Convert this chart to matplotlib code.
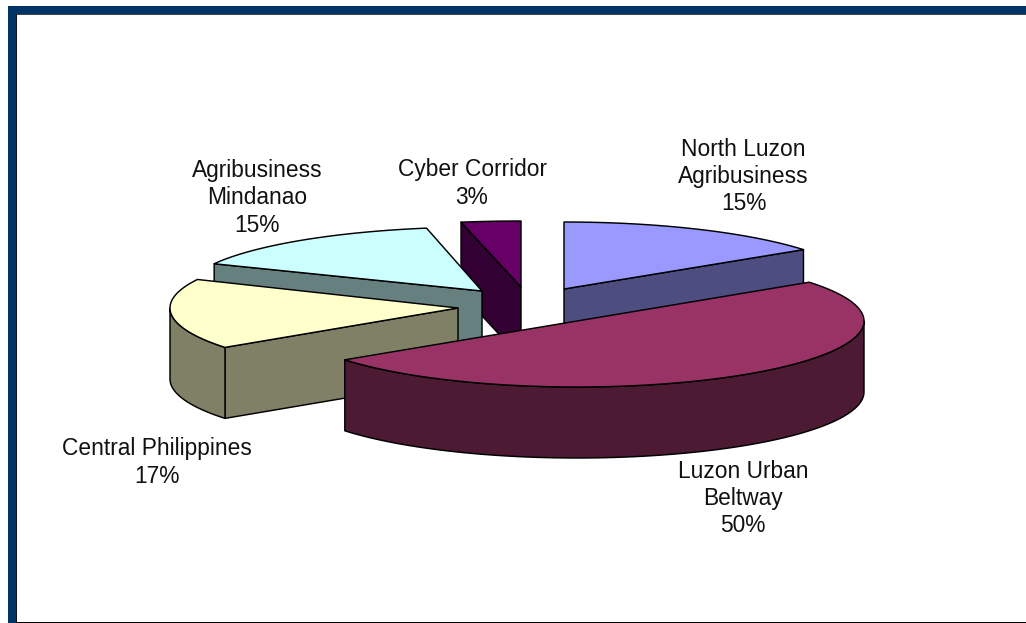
import numpy as np
import matplotlib
matplotlib.use("Agg")
import matplotlib.pyplot as plt
from matplotlib.patches import Polygon, Rectangle

# data
categories = ["North Luzon\nAgribusiness", "Luzon Urban\nBeltway", "Central Philippines",
              "Agribusiness\nMindanao", "Cyber Corridor"]
shares = [15, 50, 17, 15, 3]

# styling / layout, one entry per slice
top_colors = ["#9999FF", "#993366", "#FFFFCC", "#CCFFFF", "#660066"]
wall_colors = ["#4D4D80", "#4D1A33", "#808066", "#668080", "#330033"]
apex_x = [564, 577, 458, 482, 521]
apex_y = [289, 321, 308, 291, 287]
radius_x = [296, 287, 288, 296, 320]
radius_y = [67, 66, 67, 64, 66]
depth = 71
label_x = [743.5, 743, 157, 257, 472]
label_y = [176.5, 498.5, 462.5, 197.5, 183.5]
draw_order = [4, 0, 3, 2, 1]

W, H = 1026, 623
fig = plt.figure(figsize=(W / 100, H / 100), dpi=100, facecolor="white")
ax = fig.add_axes([0, 0, 1, 1])
ax.set_xlim(0, W)
ax.set_ylim(H, 0)
ax.axis("off")

# frame
navy = "#003366"
ax.add_patch(Rectangle((8, 6), W - 8, 7.5, fc=navy, ec="none", zorder=1))
ax.add_patch(Rectangle((8, 6), 7.5, H - 6, fc=navy, ec="none", zorder=1))
ax.add_patch(Rectangle((15.5, 13.5), W - 15, 1.2, fc="#444444", ec="none", zorder=1))
ax.add_patch(Rectangle((15.5, 13.5), 1.2, H - 13, fc="#111111", ec="none", zorder=1))
ax.add_patch(Rectangle((15.5, H - 1.5), W - 15, 1.5, fc="black", ec="none", zorder=1))

# slice boundaries, clockwise from twelve o'clock, in degrees
edges = np.concatenate([[0], np.cumsum(shares)]) / sum(shares) * 360

LW = 1.05
z = 2


def pt(i, deg):
    a = np.deg2rad(deg)
    return (apex_x[i] + radius_x[i] * np.sin(a), apex_y[i] - radius_y[i] * np.cos(a))


def poly(points, color):
    global z
    ax.add_patch(Polygon(points, closed=True, fc=color, ec="black", lw=LW, joinstyle="round", zorder=z))
    z += 1


def faces_viewer(normal_deg):
    return -np.cos(np.deg2rad(normal_deg)) > 1e-6


for i in draw_order:
    a0, a1 = edges[i], edges[i + 1]
    apex = (apex_x[i], apex_y[i])
    low = lambda p: (p[0], p[1] + depth)
    # radial walls
    for edge_deg, normal in ((a0, a0 - 90), (a1, a1 + 90)):
        if faces_viewer(normal):
            p = pt(i, edge_deg)
            poly([apex, p, low(p), low(apex)], wall_colors[i])
    # outer curved wall (front half only)
    s, e = max(a0, 90), min(a1, 270)
    if e > s:
        arc = [pt(i, d) for d in np.linspace(s, e, 80)]
        poly(arc + [low(p) for p in arc[::-1]], wall_colors[i])
    # top face
    arc = [pt(i, d) for d in np.linspace(a0, a1, 120)]
    poly([apex] + arc, top_colors[i])

for i, name in enumerate(categories):
    ax.text(label_x[i], label_y[i], f"{name}\n{shares[i]}%", ha="center", va="center",
            fontsize=16.4, family="Liberation Sans", color="#111111", linespacing=1.25, zorder=50)

fig.savefig("out.png", dpi=100, facecolor="white")
